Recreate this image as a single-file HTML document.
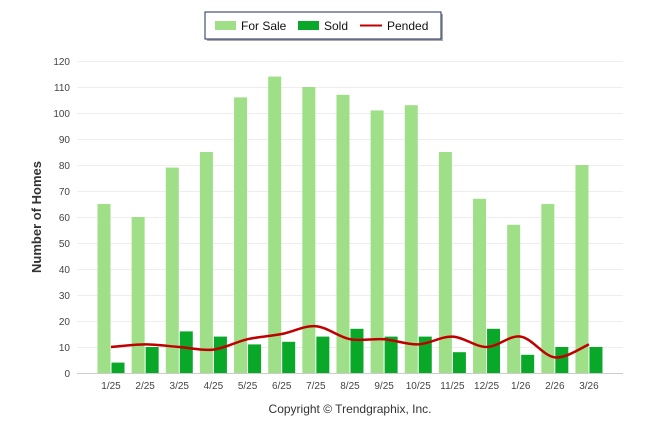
<!DOCTYPE html>
<html><head><meta charset="utf-8"><style>
body{margin:0;background:#fff;font-family:"Liberation Sans",sans-serif;}
svg text{font-family:"Liberation Sans",sans-serif;}
</style></head><body>
<svg id="c" width="646" height="434" xmlns="http://www.w3.org/2000/svg">
<g>
<rect x="207" y="14" width="236" height="27" fill="#555" opacity="0.5"/>
<rect x="205" y="12" width="236" height="27" fill="#fff" stroke="#1f2d5a" stroke-width="1"/>
<rect x="215" y="21" width="21" height="9" fill="#9fdf87"/>
<text x="241" y="30" font-size="12" fill="#111">For Sale</text>
<rect x="298" y="21" width="21" height="9" fill="#0aa828"/>
<text x="324" y="30" font-size="12" fill="#111">Sold</text>
<line x1="360" y1="25.5" x2="382" y2="25.5" stroke="#c00000" stroke-width="2"/>
<text x="387" y="30" font-size="12" fill="#111">Pended</text>
</g>
<text transform="translate(41,217) rotate(-90)" text-anchor="middle" font-size="13" font-weight="bold" fill="#333">Number of Homes</text>
<text x="350" y="413" text-anchor="middle" font-size="12" fill="#333">Copyright © Trendgraphix, Inc.</text>
<g id="grid"></g><g id="bars"></g><g id="line"></g>
</svg>
<script>
const categories=["1/25","2/25","3/25","4/25","5/25","6/25","7/25","8/25","9/25","10/25","11/25","12/25","1/26","2/26","3/26"];
const forSale=[65,60,79,85,106,114,110,107,101,103,85,67,57,65,80];
const sold=[4,10,16,14,11,12,14,17,14,14,8,17,7,10,10];
const pended=[10,11,10,9,13,15,18,13,13,11,14,10,14,6,11];
const yTicks=[0,10,20,30,40,50,60,70,80,90,100,110,120];
const NS="http://www.w3.org/2000/svg";
const y=v=>373-v*2.6;
const x=i=>111+i*34.14;
function mk(t,a,p){const e=document.createElementNS(NS,t);for(const k in a)e.setAttribute(k,a[k]);(p||document.getElementById('c')).appendChild(e);return e;}
const grid=document.getElementById('grid'),bars=document.getElementById('bars'),lg=document.getElementById('line');
yTicks.forEach(v=>{
  const l=mk('line',{x1:77,x2:623,y1:y(v)+0.5,y2:y(v)+0.5,stroke:v===0?'#ccc':'#eee'},grid);
  
  
  const t=mk('text',{x:70,y:y(v)+4,'text-anchor':'end','font-size':'10',fill:'#444'},grid);
  t.textContent=v;
  
  
});
categories.forEach((c,i)=>{
  const t=mk('text',{x:x(i),y:389,'text-anchor':'middle','font-size':'10',fill:'#444'},grid);
  t.textContent=c;
  
  
  const a=mk('rect',{x:x(i)-13.5,y:y(forSale[i]),width:13,height:forSale[i]*2.6,fill:'#9fdf87'},bars);
  
  
  const b=mk('rect',{x:x(i)+0.5,y:y(sold[i]),width:13,height:sold[i]*2.6,fill:'#0aa828'},bars);
  
  
});
const pts=pended.map((v,i)=>[x(i),y(v)]);
let d="M"+pts[0][0]+","+pts[0][1];
for(let i=0;i<pts.length-1;i++){
  const p0=pts[Math.max(0,i-1)],p1=pts[i],p2=pts[i+1],p3=pts[Math.min(pts.length-1,i+2)];
  const t=1/6;
  d+=` C${p1[0]+(p2[0]-p0[0])*t},${p1[1]+(p2[1]-p0[1])*t} ${p2[0]-(p3[0]-p1[0])*t},${p2[1]-(p3[1]-p1[1])*t} ${p2[0]},${p2[1]}`;
}
const pl=mk('path',{d:d,fill:'none',stroke:'#c00000','stroke-width':2.5},lg);


</script>
</body></html>
